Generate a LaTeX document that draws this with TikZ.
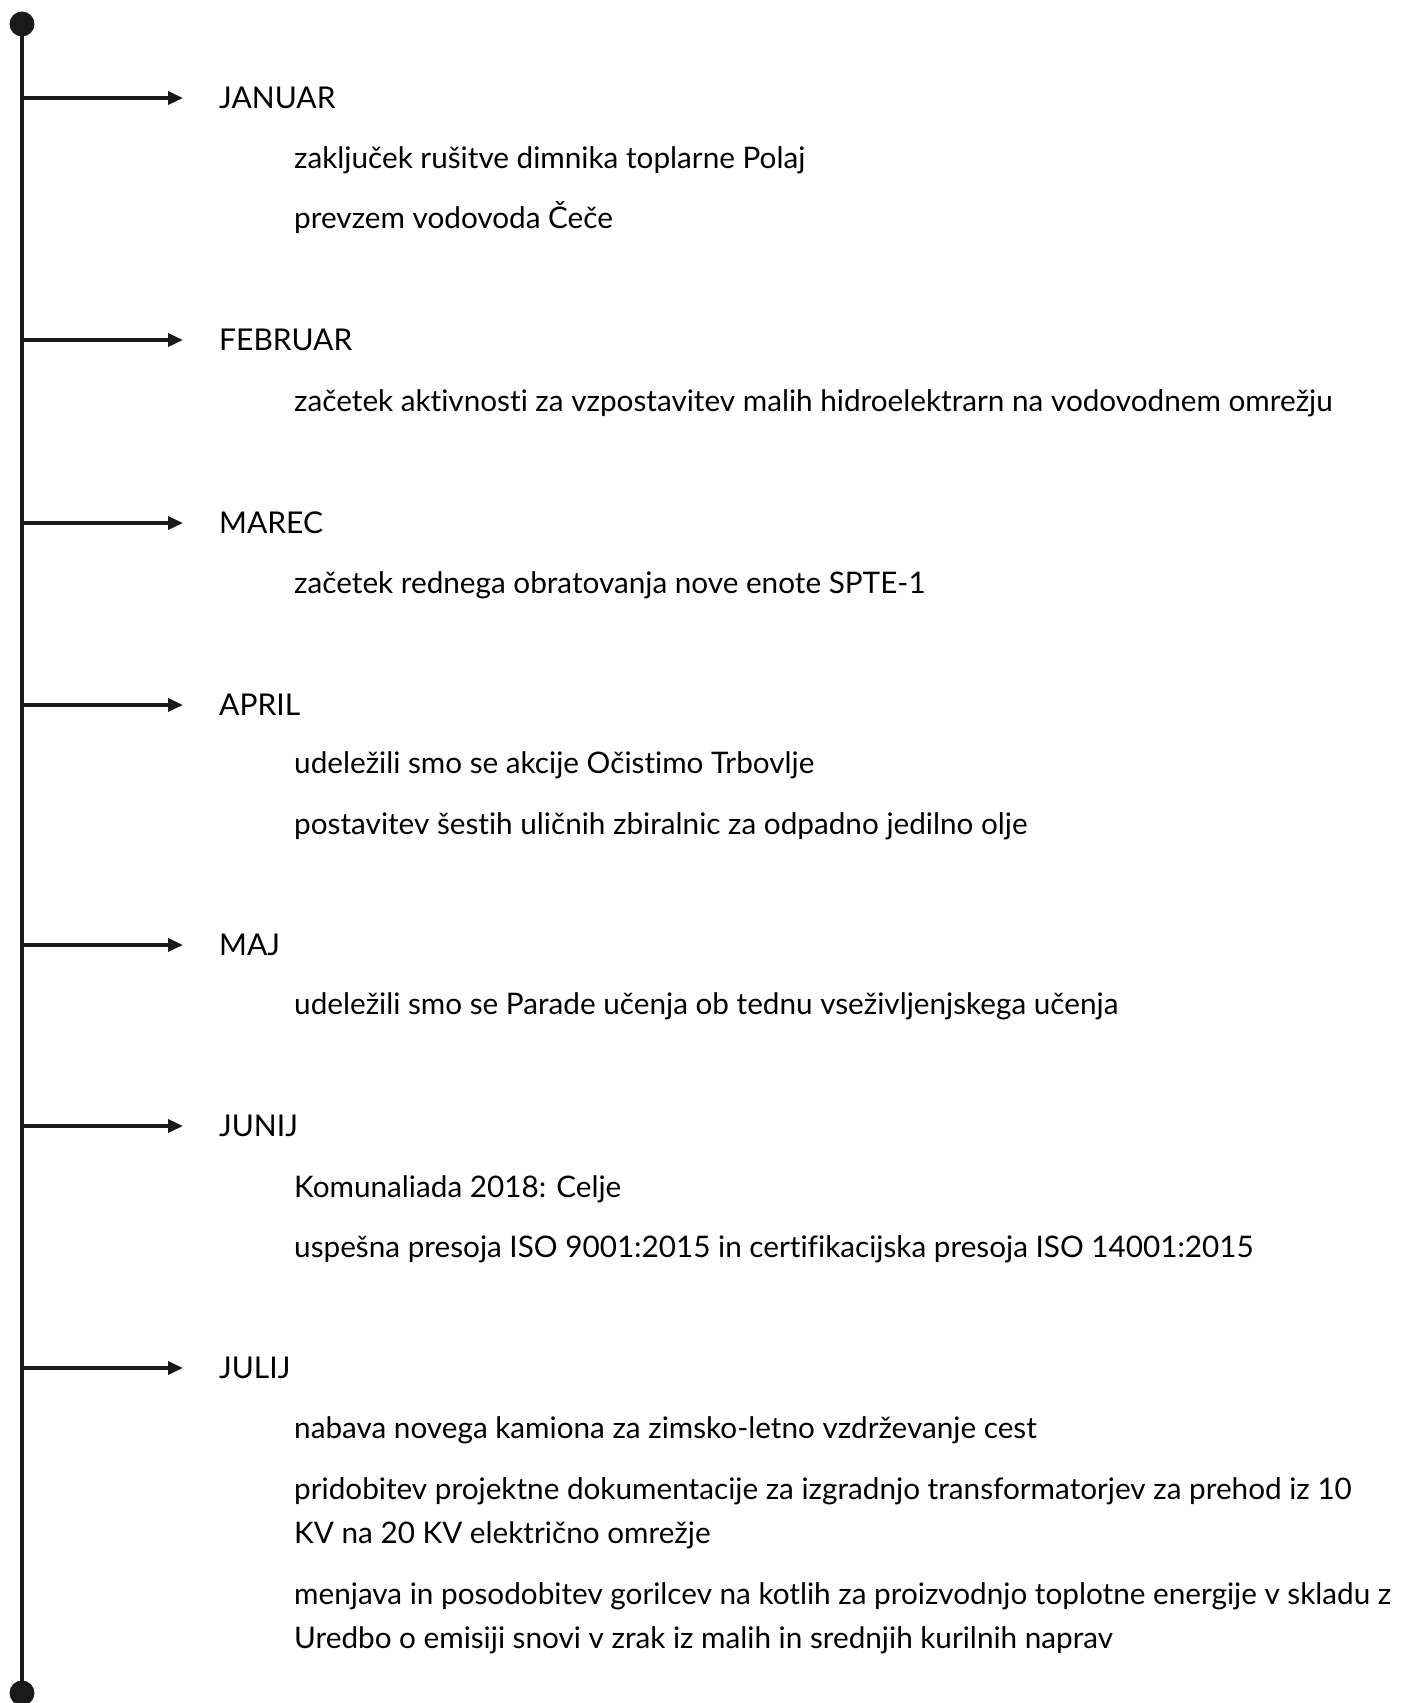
\documentclass[tikz,border=0pt]{standalone}
\usepackage{fontspec}
\setmainfont{Lato}[Ligatures=NoCommon]
\usetikzlibrary{arrows.meta, calc, positioning}
\definecolor{myink}{RGB}{26, 26, 26}

\tikzset{
  month/.style={anchor=base west, inner sep=0pt, font=\fontsize{30}{36}\selectfont},
  event/.style={anchor=base west, inner sep=0pt, align=left, font=\fontsize{29.7}{44}\selectfont},
  spoke/.style={-{Triangle[length=15pt, width=13pt]}, line width=3.5pt, myink},
}

\begin{document}
\begin{tikzpicture}[x=1pt, y=-1pt]
\useasboundingbox (0,0) rectangle (1402,1703);
% Time line
\coordinate (top) at (22,24);
\coordinate (bot) at (22,1693);
\draw[line width=4.5pt, myink] (top) -- (bot);
\fill[myink] (top) circle (12.5pt);
\fill[myink] (bot) circle (12.5pt);
% Months
\foreach \mname/\yy/\name in {JANUAR/108/jan, FEBRUAR/350/feb, MAREC/533/mar, APRIL/715/apr, MAJ/955/maj, JUNIJ/1136/jun, JULIJ/1378/jul} {
    \node[month] (\name) at (219,\yy) {\mname};
    \draw[spoke] ($(top |- \name.base)+(0,-10)$) -- ($(\name.base west)+(-36,-10)$);
}
% Events (y = baseline of the last line)
\foreach \txt/\yy/\name in {
    {zaključek rušitve dimnika toplarne Polaj}/168/jan1,
    {prevzem vodovoda Čeče}/228/jan2,
    {začetek aktivnosti za vzpostavitev malih hidroelektrarn na vodovodnem omrežju}/411/feb1,
    {začetek rednega obratovanja nove enote SPTE-1}/593/mar1,
    {udeležili smo se akcije Očistimo Trbovlje}/773/apr1,
    {postavitev šestih uličnih zbiralnic za odpadno jedilno olje}/834/apr2,
    {udeležili smo se Parade učenja ob tednu vseživljenjskega učenja}/1014/maj1,
    {Komunaliada 2018: Celje}/1197/jun1,
    {uspešna presoja ISO 9001:2015 in certifikacijska presoja ISO 14001:2015}/1257/jun2,
    {nabava novega kamiona za zimsko-letno vzdrževanje cest}/1438/jul1,
    {pridobitev projektne dokumentacije za izgradnjo transformatorjev za prehod iz 10\\KV na 20 KV električno omrežje}/1543/jul2,
    {menjava in posodobitev gorilcev na kotlih za proizvodnjo toplotne energije v skladu z\\Uredbo o emisiji snovi v zrak iz malih in srednjih kurilnih naprav}/1648/jul3} {
    \node[event] (\name) at (294,\yy) {\txt};
}
\end{tikzpicture}
\end{document}
